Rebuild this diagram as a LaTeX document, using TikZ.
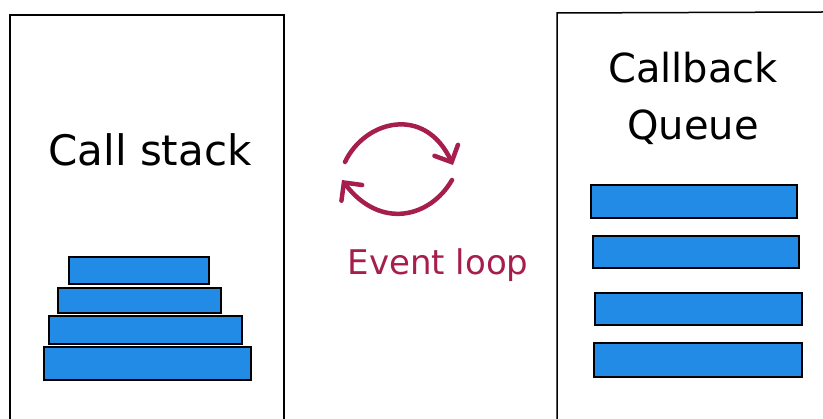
\documentclass[tikz,border=0pt]{standalone}
\usepackage{fontspec}
\setmainfont{DejaVu Sans}
\usetikzlibrary{arrows.meta}
\definecolor{barblue}{RGB}{34,139,230}
\definecolor{loopred}{RGB}{166,30,77}

\begin{document}
\begin{tikzpicture}[x=1pt,y=-1pt,
  bar/.style={draw=black,line width=1.8pt,fill=barblue,inner sep=0pt},
  panel/.style={draw=black,line width=1.5pt},
  label/.style={font=\fontsize{40}{57}\selectfont,inner sep=0pt},
  loop/.style={draw=loopred,line width=4.5pt,line cap=round,
    -{Straight Barb[length=13pt,width=26pt,line cap=round]}}]
  \useasboundingbox (0,0) rectangle (823,419);
  % the two panels, open at the bottom
  \draw[panel] (10,419) -- (10,15) -- (284,15) -- (284,419);
  \draw[panel] (557,419) -- (557,13) -- (823,12);
  % call stack
  \node[label,font=\fontsize{42}{50}\selectfont] (stack) at (150,150) {Call stack};
  \node[bar,minimum width=140pt,minimum height=27pt] (s1) at (139,270.5) {};
  \node[bar,minimum width=163pt,minimum height=25pt] (s2) at (139.5,300.5) {};
  \node[bar,minimum width=193pt,minimum height=28pt] (s3) at (145.5,330) {};
  \node[bar,minimum width=207pt,minimum height=33pt] (s4) at (147.5,363.5) {};
  % callback queue
  \node[label,align=center] (queue) at (693,98) {Callback\\Queue};
  \node[bar,minimum width=206pt,minimum height=33pt] (q1) at (694,201.5) {};
  \node[bar,minimum width=206pt,minimum height=32pt] (q2) at (696,252) {};
  \node[bar,minimum width=207pt,minimum height=32pt] (q3) at (698.5,309) {};
  \node[bar,minimum width=208pt,minimum height=34pt] (q4) at (698,360) {};
  % event loop
  \coordinate (a1) at (345,162);
  \coordinate (a2) at (453,165);
  \coordinate (b1) at (452,180);
  \coordinate (b2) at (342,180);
  \draw[loop] (a1) .. controls (365,120) and (425,105) .. (a2);
  \draw[loop] (b1) .. controls (430,218) and (380,230) .. (b2);
  \node[label,text=loopred,font=\fontsize{34}{40}\selectfont] (evloop) at (438,265) {Event loop};
\end{tikzpicture}
\end{document}
